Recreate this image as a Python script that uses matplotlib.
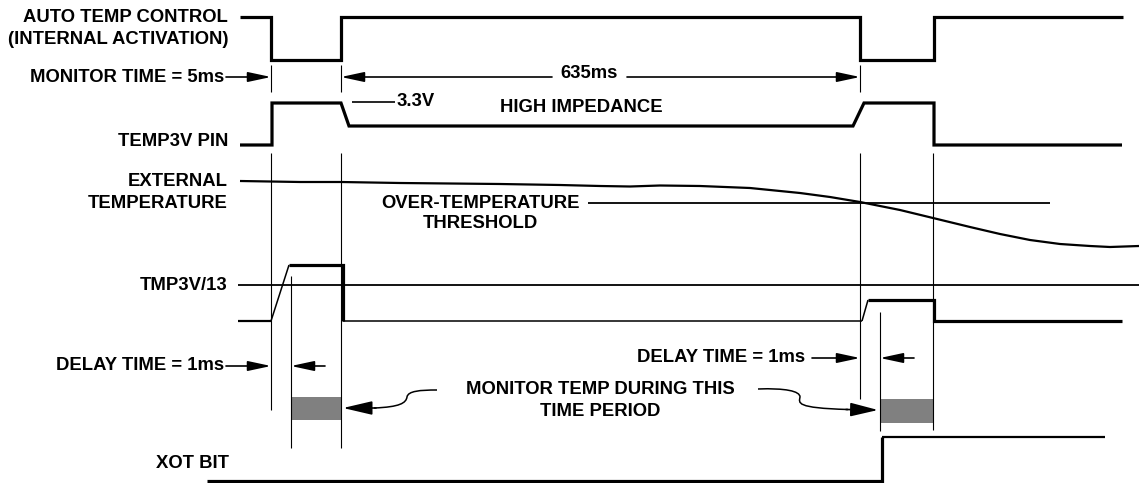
import matplotlib
matplotlib.use("Agg")
import matplotlib.pyplot as plt
from matplotlib.path import Path
from matplotlib.patches import PathPatch, Rectangle

# ---------------- data (pixel-space timing diagram) ----------------
# AUTO TEMP CONTROL waveform
auto_x = [240, 271, 271, 341, 341, 860, 860, 934, 934, 1123]
auto_y = [17, 17, 60, 60, 17, 17, 60, 60, 17, 17]
# TEMP3V PIN waveform
pin_x = [240, 272, 272, 341, 349, 853, 864, 934, 934, 1122]
pin_y = [145, 145, 103, 103, 126, 126, 103, 103, 145, 145]
# EXTERNAL TEMPERATURE curve (read points)
temp_x = [240, 300, 341, 400, 500, 560, 600, 630, 660, 700, 750, 800, 830, 860,
          900, 933, 970, 1000, 1030, 1060, 1090, 1110, 1139]
temp_y = [181, 182, 182, 183, 184, 185, 186, 186.5, 185.5, 186, 188, 193, 197, 202,
          210, 218, 227, 234, 240, 244, 246, 247, 246]
threshold_y = 203
threshold_x = [588, 1050]
# TMP3V/13 waveform
tmp_ref_y = 285
tmp_x1 = [238, 271, 289, 343, 343]
tmp_y1 = [321, 321, 265, 265, 321]
tmp_x2 = [862, 868, 934, 934, 1122]
tmp_y2 = [321, 300, 300, 321, 321]
# XOT BIT waveform
xot_x = [207, 882, 882, 1105]
xot_y = [481, 481, 437, 437]

labels = [
    ("AUTO TEMP CONTROL", 228, 17),
    ("(INTERNAL ACTIVATION)", 228, 40),
    ("TEMP3V PIN", 228, 142),
    ("EXTERNAL", 228, 181),
    ("TEMPERATURE", 228, 203),
    ("TMP3V/13", 228, 285),
    ("XOT BIT", 229, 463),
]

W, H = 1139, 483
fig = plt.figure(figsize=(W / 100, H / 100), dpi=100)
ax = fig.add_axes([0, 0, 1, 1])
ax.set_xlim(0, W)
ax.set_ylim(H, 0)
ax.axis("off")

FONT = dict(family="Liberation Sans", weight="bold", fontsize=13.3, color="black")
thick = 2.3
thin = 0.8
mid = 1.3

def line(x, y, lw, **kw):
    ax.plot(x, y, color="black", lw=lw, solid_capstyle="butt",
            solid_joinstyle="miter", **kw)

def arrow(tip, tail, lw=1.2, hl=1.4, hw=0.3):
    ax.annotate("", xy=tip, xytext=tail,
                arrowprops=dict(arrowstyle=f"-|>,head_length={hl},head_width={hw}",
                                lw=lw, color="black", shrinkA=0, shrinkB=0,
                                mutation_scale=10))

# waveforms
line(auto_x, auto_y, thick)
line(pin_x, pin_y, thick)
line(temp_x, temp_y, 1.6)
line(threshold_x, [threshold_y, threshold_y], mid)
line([238, 1139], [tmp_ref_y, tmp_ref_y], mid)
line([238, 271], [321, 321], 1.6)
line([343, 862], [321, 321], 1.1)
line(tmp_x1[1:3], tmp_y1[1:3], 1.1)
line(tmp_x1[2:], tmp_y1[2:], thick)
line(tmp_x2[:2], tmp_y2[:2], 1.1)
line(tmp_x2[1:], tmp_y2[1:], thick)
line(xot_x[:3], xot_y[:3], thick)
line(xot_x[2:], xot_y[2:], 1.6)

# vertical reference lines
line([271, 271], [65, 92], thin)
line([341, 341], [65, 92], thin)
line([860, 860], [65, 92], thin)
line([271, 271], [153, 410], thin)
line([341, 341], [153, 448], thin)
line([291, 291], [276, 448], thin)
line([860, 860], [153, 399], thin)
line([933, 933], [153, 430], thin)
line([880, 880], [312, 431], thin)

# shaded monitoring windows
ax.add_patch(Rectangle((291, 397), 50, 23, color="#808080", lw=0))
ax.add_patch(Rectangle((880, 399), 53, 24, color="#808080", lw=0))

# labels
for t, x, y in labels:
    ax.text(x, y, t, ha="right", va="center", **FONT)

# monitor time / 635ms
ax.text(224, 77, "MONITOR TIME = 5ms", ha="right", va="center", **FONT)
arrow((271, 77), (226, 77))
ax.text(589, 73, "635ms", ha="center", va="center", **FONT)
arrow((341, 77), (552, 77))
arrow((860, 77), (627, 77))

# 3.3V / high impedance
line([352, 395], [102, 102], 1.2)
ax.text(397, 102, "3.3V", ha="left", va="center", **FONT)
ax.text(581, 108, "HIGH IMPEDANCE", ha="center", va="center", **FONT)

# threshold text
ax.text(480, 203, "OVER-TEMPERATURE", ha="center", va="center", **FONT)
ax.text(480, 224, "THRESHOLD", ha="center", va="center", **FONT)

# delay times
ax.text(224, 366, "DELAY TIME = 1ms", ha="right", va="center", **FONT)
arrow((271, 366), (226, 366))
arrow((291, 366), (325, 366))
ax.text(805, 357, "DELAY TIME = 1ms", ha="right", va="center", **FONT)
arrow((860, 358), (812, 358))
arrow((880, 358), (914, 358))

# monitor temp text
ax.text(600, 390, "MONITOR TEMP DURING THIS", ha="center", va="center", **FONT)
ax.text(600, 411, "TIME PERIOD", ha="center", va="center", **FONT)

# squiggle leaders
C4 = Path.CURVE4
lp = Path([(437, 390), (420, 390), (408, 391), (407, 397), (406, 403), (400, 407), (374, 408)],
          [Path.MOVETO, C4, C4, C4, C4, C4, C4])
ax.add_patch(PathPatch(lp, fill=False, lw=1.1, ec="black"))
arrow((343, 408), (376, 408), hl=1.8, hw=0.42)
rp = Path([(758, 389), (785, 388), (800, 391), (800, 397), (799, 403), (795, 408), (848, 409.5)],
          [Path.MOVETO, C4, C4, C4, C4, C4, C4])
ax.add_patch(PathPatch(rp, fill=False, lw=1.1, ec="black"))
arrow((878, 410), (846, 409.5), hl=1.7, hw=0.42)

fig.savefig("out.png", dpi=100, facecolor="white")
